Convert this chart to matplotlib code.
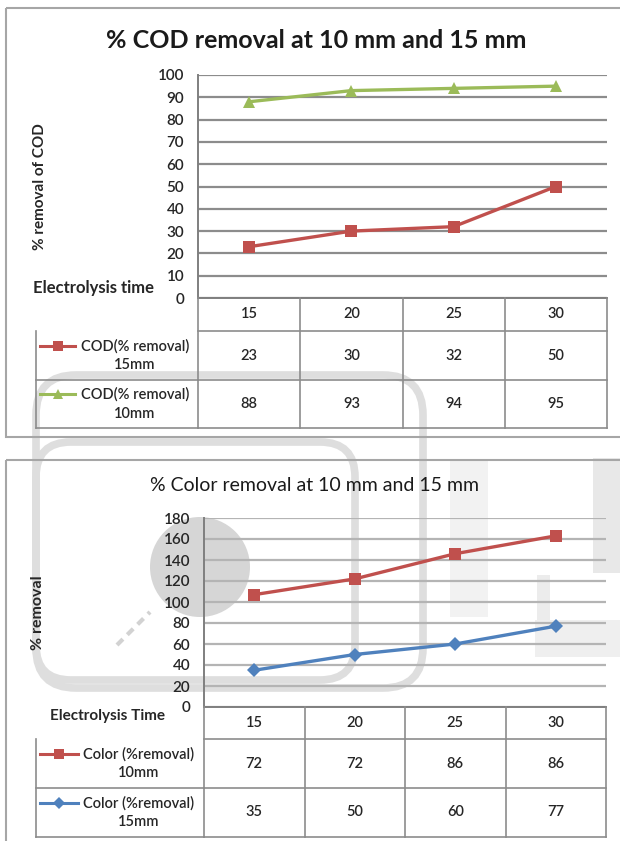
import numpy as np
import matplotlib
matplotlib.use("Agg")
import matplotlib.pyplot as plt
from matplotlib.patches import FancyBboxPatch, Rectangle, Circle
from matplotlib.transforms import blended_transform_factory

plt.rcParams['font.family'] = ['Lato', 'DejaVu Sans']

# electrolysis time (min)
times = ["15", "20", "25", "30"]

# COD removal (%)
cod_15mm = [23, 30, 32, 50]
cod_10mm = [88, 93, 94, 95]

# colour removal (%) -- plotted as a stacked line chart
color_10mm = [72, 72, 86, 86]
color_15mm = [35, 50, 60, 77]

RED = '#C0504D'
GREEN = '#9BBB59'
BLUE = '#4F81BD'
TXT = '#262626'
GRID = '#8c8c8c'

W, H = 620, 841
fig = plt.figure(figsize=(W / 100, H / 100), dpi=100)


def box(x0, y0, x1, y1):
    # pixel box -> figure fraction rect
    return [x0 / W, 1 - y1 / H, (x1 - x0) / W, (y1 - y0) / H]


# background layer (watermark)
bg = fig.add_axes([0, 0, 1, 1], zorder=0)
bg.set_xlim(0, W)
bg.set_ylim(H, 0)
bg.axis('off')
wm = '#dedede'
bg.add_patch(FancyBboxPatch((36, 375), 387, 313, boxstyle="round,pad=0,rounding_size=40",
                            fill=False, ec=wm, lw=5.5))
bg.add_patch(FancyBboxPatch((36, 442), 319, 238, boxstyle="round,pad=0,rounding_size=35",
                            fill=False, ec=wm, lw=5.5))
bg.add_patch(Circle((200, 567), 50, color='#d6d6d6', lw=0))
bg.plot([117, 150], [645, 612], color='#d2d2d2', lw=3, ls=(0, (2, 1.5)))
bg.add_patch(Rectangle((450, 460), 38, 157, color='#f2f2f2', lw=0))
bg.add_patch(Rectangle((593, 458), 27, 115, color='#e8e8e8', lw=0))
bg.add_patch(Rectangle((537, 575), 13, 45, color='#ececec', lw=0))
bg.add_patch(Rectangle((535, 620), 85, 37, color='#efefef', lw=0))

# foreground layer (frames, tables, labels)
fg = fig.add_axes([0, 0, 1, 1], zorder=3)
fg.set_xlim(0, W)
fg.set_ylim(H, 0)
fg.axis('off')
fg.patch.set_alpha(0)

frame = '#a6a6a6'
fg.add_patch(Rectangle((6, 8), 630, 429, fill=False, ec=frame, lw=1.5))
fg.add_patch(Rectangle((6, 460), 630, 400, fill=False, ec=frame, lw=1.5))


def line_plot(rect, ymax, ystep, grid_col):
    ax = fig.add_axes(box(*rect), zorder=2)
    ax.patch.set_alpha(0)
    ax.set_xlim(-0.5, len(times) - 0.5)
    ax.set_ylim(0, ymax)
    ax.set_yticks(np.arange(0, ymax + 1, ystep))
    ax.set_xticks([])
    ax.grid(axis='y', color=grid_col, lw=1.6)
    ax.set_axisbelow(True)
    for s in ['top', 'right', 'bottom']:
        ax.spines[s].set_visible(False)
    ax.spines['left'].set_color('#7f7f7f')
    ax.spines['left'].set_linewidth(1.4)
    ax.tick_params(axis='y', length=0, pad=10, labelsize=11, labelcolor=TXT)
    for lab in ax.get_yticklabels():
        lab.set_fontweight('semibold')
    return ax


def data_table(ax, y_axis, y_head, y_rows, row_left, rows):
    tr = blended_transform_factory(ax.transData, fg.transData)
    n = len(times)
    lc = '#8c8c8c'
    # horizontal rules
    fg.plot([-0.5, n - 0.5], [y_axis, y_axis], color='#7f7f7f', lw=1.4, transform=tr)
    fg.plot([-0.5, n - 0.5], [y_head, y_head], color=lc, lw=1.2, transform=tr)
    x_left_ax = ax.transData.transform((-0.5, 0))[0]
    x_left_fg = fg.transData.inverted().transform((x_left_ax, 0))[0]
    for y in y_rows:
        fg.plot([row_left, x_left_fg], [y, y], color=lc, lw=1.2)
        fg.plot([-0.5, n - 0.5], [y, y], color=lc, lw=1.2, transform=tr)
    fg.plot([row_left, row_left], [y_head, y_rows[-1]], color=lc, lw=1.2)
    for k in range(n + 1):
        fg.plot([k - 0.5, k - 0.5], [y_axis, y_rows[-1]], color=lc, lw=1.2, transform=tr)
    # header + values
    for k, t in enumerate(times):
        fg.text(k, (y_axis + y_head) / 2, t, transform=tr, ha='center', va='center',
                fontsize=10.5, fontweight='semibold', color=TXT)
    top = y_head
    for (vals, label, col, mk, ms, lx, tx), bot in zip(rows, y_rows):
        mid = (top + bot) / 2
        for k, v in enumerate(vals):
            fg.text(k, mid, str(v), transform=tr, ha='center', va='center',
                    fontsize=10.5, fontweight='semibold', color=TXT)
        fg.plot(lx, [mid - 10, mid - 10], color=col, lw=2.2)
        fg.plot([sum(lx) / 2], [mid - 10], marker=mk, color=col, ms=ms, mew=0)
        fg.text(tx, mid, label, ha='center', va='center', fontsize=10.5,
                fontweight='semibold', color=TXT, multialignment='center',
                linespacing=1.45)
        top = bot


# ---- COD chart ----
ax1 = line_plot((198, 75, 607, 298), 100, 10, GRID)
x = np.arange(len(times))
ax1.plot(x, cod_15mm, color=RED, lw=2.4, marker='s', ms=8, mew=0)
ax1.plot(x, cod_10mm, color=GREEN, lw=2.4, marker='^', ms=9, mew=0)

fg.text(316, 40, "% COD removal at 10 mm and 15 mm", ha='center', va='center',
        fontsize=18, fontweight='bold', color='#1a1a1a')
fg.text(40, 187, "% removal of COD", rotation=90, ha='center', va='center',
        fontsize=11, fontweight='bold', color=TXT)
fg.text(33, 288, "Electrolysis time", ha='left', va='center',
        fontsize=12, fontweight='bold', color=TXT)
data_table(ax1, 298, 331, [380, 428], 36, [
    (cod_15mm, "COD(% removal)\n15mm", RED, 's', 6.5, [40, 75], 135),
    (cod_10mm, "COD(% removal)\n10mm", GREEN, '^', 7, [40, 75], 135),
])

# ---- colour chart (stacked: 15 mm at bottom, 10 mm on top of it) ----
ax2 = line_plot((204, 518, 606, 707), 180, 20, '#b4b4b4')
stack_15 = np.array(color_15mm)
stack_10 = stack_15 + np.array(color_10mm)
ax2.plot(x, stack_15, color=BLUE, lw=2.4, marker='D', ms=7, mew=0)
ax2.plot(x, stack_10, color=RED, lw=2.4, marker='s', ms=8, mew=0)

fg.text(315, 485, "% Color removal at 10 mm and 15 mm", ha='center', va='center',
        fontsize=14, color='#1a1a1a')
fg.text(38, 613, "% removal", rotation=90, ha='center', va='center',
        fontsize=11.5, fontweight='bold', color=TXT)
fg.text(107, 716, "Electrolysis Time", ha='center', va='center',
        fontsize=11, fontweight='bold', color=TXT)
data_table(ax2, 707, 739, [788, 837], 36, [
    (color_10mm, "Color (%removal)\n10mm", RED, 's', 6.5, [40, 78], 139),
    (color_15mm, "Color (%removal)\n15mm", BLUE, 'D', 6, [40, 78], 139),
])

fig.savefig("out.png", dpi=100)
